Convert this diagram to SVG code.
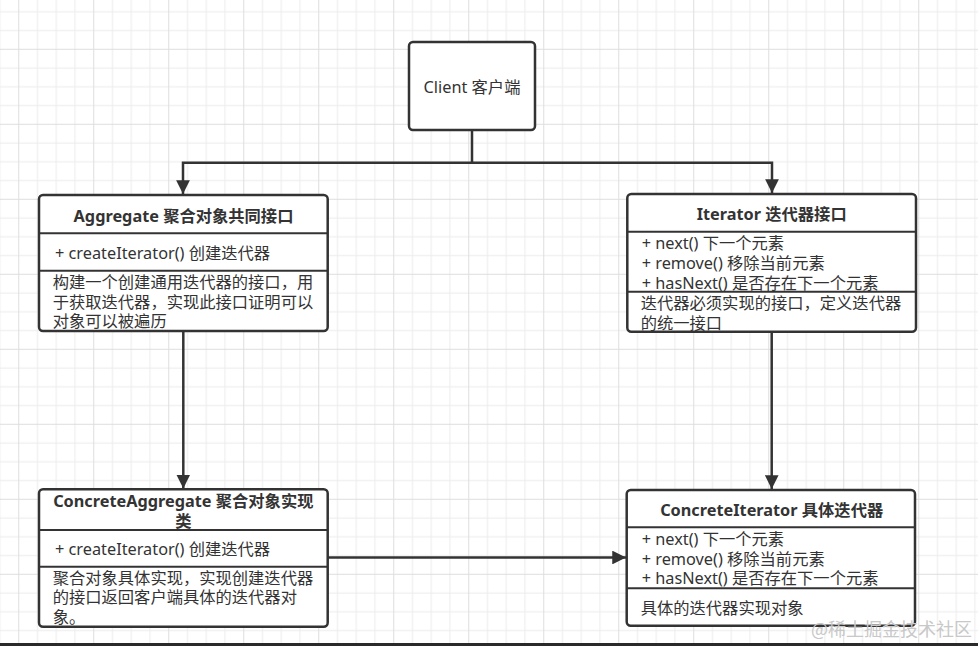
<svg xmlns="http://www.w3.org/2000/svg" width="978" height="646" viewBox="0 0 978 646">
<defs>
<pattern id="grid" patternUnits="userSpaceOnUse" x="18.25" y="48.8" width="75" height="75">
<rect x="0" y="0" width="75" height="75" fill="#ffffff"/>
<rect x="18.75" y="0" width="1" height="75" fill="#ececec"/>
<rect x="37.5" y="0" width="1" height="75" fill="#ececec"/>
<rect x="56.25" y="0" width="1" height="75" fill="#ececec"/>
<rect x="0" y="18.75" width="75" height="1" fill="#ececec"/>
<rect x="0" y="37.5" width="75" height="1" fill="#ececec"/>
<rect x="0" y="56.25" width="75" height="1" fill="#ececec"/>
<rect x="0" y="0" width="1" height="75" fill="#dedede"/>
<rect x="0" y="0" width="75" height="1" fill="#dedede"/>
</pattern>
<marker id="arrow" viewBox="0 0 10 10" refX="10" refY="5" markerWidth="5.5" markerHeight="5.5" orient="auto" markerUnits="strokeWidth">
<path d="M0,0 L10,5 L0,10 Z" fill="#333333"/>
</marker>
<style>
.box{fill:#ffffff;stroke:#333333;stroke-width:2.5}
.sep{stroke:#333333;stroke-width:2}
.conn{fill:none;stroke:#333333;stroke-width:2.5}
text{font-family:"Noto Sans","Noto Sans CJK SC",sans-serif;font-size:16.3px;fill:#333333}
.title{font-weight:bold;text-anchor:middle}
.mid{text-anchor:middle}
.wm{font-family:"Noto Sans CJK SC",serif;font-size:18px;fill:#c8c8c8}
</style>
</defs>
<rect x="0" y="0" width="978" height="646" fill="url(#grid)"/>

<g id="connectors">
<path class="conn" d="M472,130 V162.7 H183 V194" marker-end="url(#arrow)"/>
<path class="conn" d="M472,162.7 H772 V193" marker-end="url(#arrow)"/>
<path class="conn" d="M183.3,331 V488.5" marker-end="url(#arrow)"/>
<path class="conn" d="M771.7,332 V489" marker-end="url(#arrow)"/>
<path class="conn" d="M328,557.5 H626" marker-end="url(#arrow)"/>
</g>

<g id="client">
<rect class="box" x="409" y="42" width="126" height="88" rx="4"/>
<text class="mid" x="472" y="93">Client 客户端</text>
</g>

<g id="aggregate">
<rect class="box" x="39" y="195" width="288.7" height="136" rx="4"/>
<line class="sep" x1="39" y1="233.3" x2="327.7" y2="233.3"/>
<line class="sep" x1="39" y1="270.7" x2="327.7" y2="270.7"/>
<text class="title" x="183.5" y="221.5">Aggregate 聚合对象共同接口</text>
<text x="55" y="259">+ createIterator() 创建迭代器</text>
<text x="52.7" y="287.5">构建一个创建通用迭代器的接口，用<tspan x="52.7" dy="20">于获取迭代器，实现此接口证明可以</tspan><tspan x="52.7" dy="19.5">对象可以被遍历</tspan></text>
</g>

<g id="iterator">
<rect class="box" x="627.3" y="194" width="288.7" height="137.7" rx="4"/>
<line class="sep" x1="627.3" y1="231.7" x2="916" y2="231.7"/>
<line class="sep" x1="627.3" y1="291.7" x2="916" y2="291.7"/>
<text class="title" x="771.7" y="220">Iterator 迭代器接口</text>
<text x="641.7" y="249">+ next() 下一个元素<tspan x="641.7" dy="20">+ remove() 移除当前元素</tspan><tspan x="641.7" dy="19.5">+ hasNext() 是否存在下一个元素</tspan></text>
<text x="640.7" y="309">迭代器必须实现的接口，定义迭代器<tspan x="640.7" dy="20">的统一接口</tspan></text>
</g>

<g id="concrete-aggregate">
<rect class="box" x="39" y="489.3" width="288.7" height="137.4" rx="4"/>
<line class="sep" x1="39" y1="530" x2="327.7" y2="530"/>
<line class="sep" x1="39" y1="566.7" x2="327.7" y2="566.7"/>
<text class="title" x="183.3" y="506.5">ConcreteAggregate 聚合对象实现<tspan x="183.3" dy="20">类</tspan></text>
<text x="55" y="555">+ createIterator() 创建迭代器</text>
<text x="52.7" y="584">聚合对象具体实现，实现创建迭代器<tspan x="52.7" dy="19">的接口返回客户端具体的迭代器对</tspan><tspan x="52.7" dy="19.5">象。</tspan></text>
</g>

<g id="concrete-iterator">
<rect class="box" x="626.7" y="490" width="288.3" height="135.7" rx="4"/>
<line class="sep" x1="626.7" y1="527.3" x2="915" y2="527.3"/>
<line class="sep" x1="626.7" y1="588.3" x2="915" y2="588.3"/>
<text class="title" x="771.7" y="516">ConcreteIterator 具体迭代器</text>
<text x="641.7" y="545">+ next() 下一个元素<tspan x="641.7" dy="20">+ remove() 移除当前元素</tspan><tspan x="641.7" dy="19">+ hasNext() 是否存在下一个元素</tspan></text>
<text x="640.7" y="613.5">具体的迭代器实现对象</text>
</g>

<text class="wm" x="811" y="636">@稀土掘金技术社区</text>
<rect x="0" y="643" width="978" height="3" fill="#2a2a2a"/>
</svg>
